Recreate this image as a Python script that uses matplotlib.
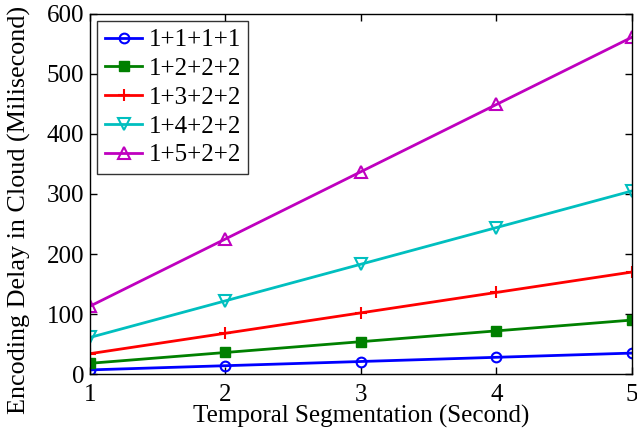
import matplotlib
matplotlib.use("Agg")
import matplotlib.pyplot as plt

plt.rcParams['font.family'] = ['Liberation Serif', 'DejaVu Serif']

# 数据
seg = [1, 2, 3, 4, 5]
d_1111 = [7, 14, 21, 28, 35]
d_1222 = [18, 36, 54, 72, 90]
d_1322 = [34, 68, 102, 136, 170]
d_1422 = [61, 122, 183, 244, 305]
d_1522 = [113, 225, 337, 449, 561]
labels = ['1+1+1+1', '1+2+2+2', '1+3+2+2', '1+4+2+2', '1+5+2+2']

fig = plt.figure(figsize=(6.37, 4.32), dpi=100)
ax = fig.add_axes([0.141, 0.134, 0.851, 0.834])

# MATLAB 风格的颜色和标记
ax.plot(seg, d_1111, color='#0000ff', marker='o', mfc='none', ms=7, mew=1.5, lw=2, label=labels[0])
ax.plot(seg, d_1222, color='#008000', marker='s', ms=7, lw=2, label=labels[1])
ax.plot(seg, d_1322, color='#ff0000', marker='+', ms=8, mew=1.5, lw=2, label=labels[2])
ax.plot(seg, d_1422, color='#00bfbf', marker='v', mfc='none', ms=8, mew=1.5, lw=2, label=labels[3])
ax.plot(seg, d_1522, color='#bf00bf', marker='^', mfc='none', ms=8, mew=1.5, lw=2, label=labels[4])

ax.set_xlim(1, 5)
ax.set_ylim(0, 600)
ax.set_xticks([1, 2, 3, 4, 5])
ax.set_yticks([0, 100, 200, 300, 400, 500, 600])
ax.tick_params(direction='in', top=True, right=True, labelsize=18, length=5, width=1)
ax.tick_params(axis='x', pad=7)
ax.tick_params(axis='y', pad=4)
for s in ax.spines.values():
    s.set_linewidth(1)

ax.set_xlabel('Temporal Segmentation (Second)', fontsize=18, labelpad=-1)
ax.set_ylabel('Encoding Delay in Cloud (Milisecond)', fontsize=18.8)
ax.yaxis.set_label_coords(-0.109, 0.457)

leg = ax.legend(loc='upper left', fontsize=18, frameon=True, fancybox=False,
                edgecolor='black', borderaxespad=0.3, handlelength=1.5,
                labelspacing=0.25, borderpad=0.3, handletextpad=0.25)
leg.get_frame().set_linewidth(1)

fig.savefig('out.png', dpi=100)
